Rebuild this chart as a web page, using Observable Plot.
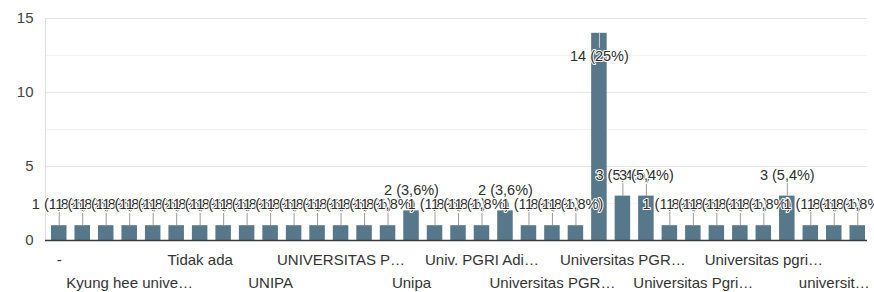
<!DOCTYPE html>
<html>
<head>
<meta charset="utf-8">
<script src="https://cdn.jsdelivr.net/npm/d3@7"></script>
<script src="https://cdn.jsdelivr.net/npm/@observablehq/plot@0.6"></script>
<style>
  html, body { margin: 0; padding: 0; background: #fff; }
  #chart svg { display: block; }
</style>
</head>
<body>
<div id="chart"></div>
<script>
// Response counts per category (35 bars, left to right)
const counts = [1,1,1,1,1,1,1,1,1,1,1,1,1,1,1,2,1,1,1,2,1,1,1,14,3,3,1,1,1,1,1,3,1,1,1];
// Visible (truncated) category tick labels; unlabeled categories are blank
const tickLabels = [
  "-", "", "", "Kyung hee unive…", "", "", "Tidak ada", "", "", "UNIPA", "", "",
  "UNIVERSITAS P…", "", "", "Unipa", "", "", "Univ. PGRI Adi…", "", "",
  "Universitas PGR…", "", "", "Universitas PGR…", "", "", "Universitas Pgri…", "", "",
  "Universitas pgri…", "", "", "universit…", ""
];
const yTicks = [0, 5, 10, 15];
const yMinor = [2.5, 7.5, 12.5];

const total = d3.sum(counts);
const maxV = d3.max(counts);
const fmtPct = v => {
  const p = (v / total) * 100;
  const s = Math.abs(p - Math.round(p)) < 1e-9 ? String(Math.round(p)) : p.toFixed(1);
  return s.replace(".", ",");
};
const rows = counts.map((v, i) => ({i, v, label: `${v} (${fmtPct(v)}%)`, isMax: v === maxV}));
const row1 = rows.filter(d => d.i % 6 === 0 && tickLabels[d.i]).map(d => d.i);
const row2 = rows.filter(d => d.i % 6 === 3 && tickLabels[d.i]).map(d => d.i);

const barColor = "#56788a";

const chart = Plot.plot({
  width: 874,
  height: 292,
  marginLeft: 47,
  marginRight: 5,
  marginTop: 18,
  marginBottom: 52,
  style: {fontFamily: "'Liberation Sans', Arial, sans-serif", fontSize: "15px", background: "#fff"},
  x: {type: "band", domain: d3.range(counts.length), paddingInner: 0.34, paddingOuter: 0.17, round: false, axis: null},
  y: {domain: [0, 15], axis: null},
  marks: [
    Plot.ruleY(yMinor, {stroke: "#f3f3f3", insetLeft: -2, insetRight: 2}),
    Plot.ruleY(yTicks.filter(t => t > 0), {stroke: "#e6e6e6", insetLeft: -2, insetRight: 2}),
    Plot.frame({anchor: "left", stroke: "#e0e0e0", insetLeft: -2}),
    Plot.barY(rows, {x: "i", y: "v", fill: barColor}),
    Plot.ruleY([0], {stroke: "#3a3a3a", strokeWidth: 1.5, insetLeft: -2, insetRight: 2}),
    // annotation stems
    Plot.ruleX(rows.filter(d => !d.isMax), {x: "i", y1: "v", y2: "v", insetTop: -15, stroke: "#9a9a9a", strokeWidth: 1}),
    Plot.ruleX(rows.filter(d => d.isMax), {x: "i", y1: "v", y2: "v", insetBottom: -15, stroke: "#c8d2d8", strokeWidth: 1}),
    // annotation labels
    Plot.text(rows.filter(d => !d.isMax), {x: "i", y: "v", text: "label", dy: -21, fontSize: 14.5, fill: "#2e2e2e", stroke: "#fff", strokeWidth: 2}),
    Plot.text(rows.filter(d => d.isMax), {x: "i", y: "v", text: "label", dy: 23, fontSize: 14.5, fill: "#2e2e2e", stroke: "#fff", strokeWidth: 2}),
    // axes
    Plot.axisY({ticks: yTicks, tickSize: 0, tickPadding: 14, fontSize: 15, fill: "#444", label: null}),
    Plot.axisX({ticks: row1, tickFormat: i => tickLabels[i], tickSize: 0, tickPadding: 14, fontSize: 15, fill: "#333", label: null}),
    Plot.axisX({ticks: row2, tickFormat: i => tickLabels[i], tickSize: 0, tickPadding: 37, fontSize: 15, fill: "#333", label: null})
  ]
});
document.getElementById("chart").appendChild(chart);
</script>
</body>
</html>
